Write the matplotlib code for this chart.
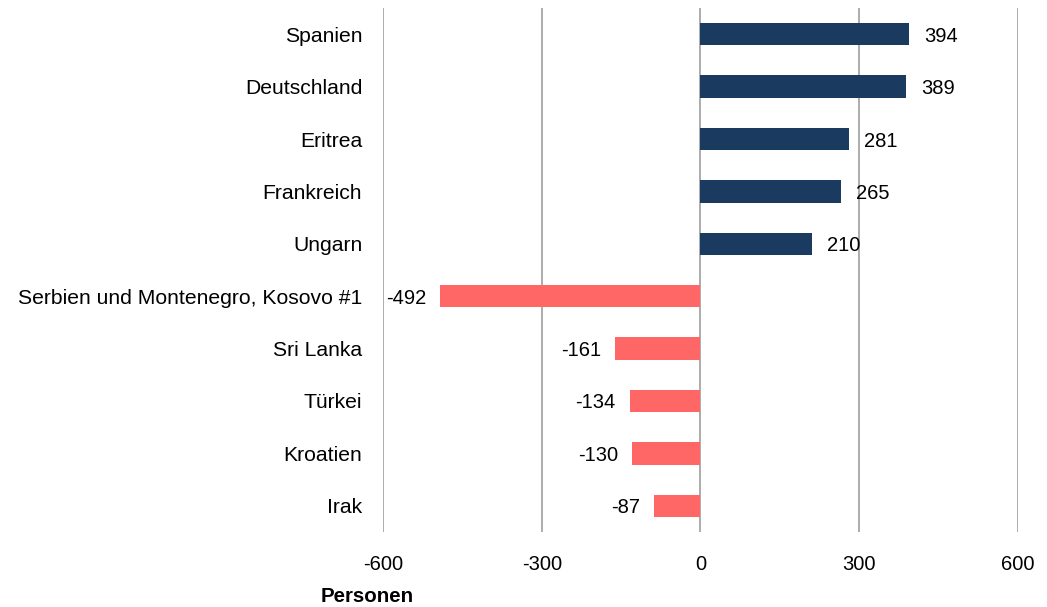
import matplotlib
matplotlib.use("Agg")
import matplotlib.pyplot as plt

categories = ["Spanien", "Deutschland", "Eritrea", "Frankreich", "Ungarn",
              "Serbien und Montenegro, Kosovo #1", "Sri Lanka", "Türkei", "Kroatien", "Irak"]
values = [394, 389, 281, 265, 210, -492, -161, -134, -130, -87]
xticks = [-600, -300, 0, 300, 600]
xlabel = "Personen"

pos_color = "#1b3a60"
neg_color = "#ff6666"
grid_color = "#a6a6a6"

plt.rcParams["font.family"] = ["Liberation Sans", "DejaVu Sans"]
FS = 14.5

fig = plt.figure(figsize=(10.47, 6.07), dpi=100)
ax = fig.add_axes([0.3658, 0.1236, 0.6065, 0.8632])

ypos = list(range(len(categories)))
colors = [pos_color if v >= 0 else neg_color for v in values]
ax.barh(ypos, values, height=0.43, color=colors, zorder=3)

for x in xticks:
    ax.axvline(x, color=grid_color, lw=1.3, zorder=1)

for y, v in zip(ypos, values):
    if v >= 0:
        ax.annotate(str(v), (v, y), xytext=(11, 0), textcoords="offset points",
                    ha="left", va="center_baseline", fontsize=FS, zorder=4)
    else:
        ax.annotate(str(v), (v, y), xytext=(-10, 0), textcoords="offset points",
                    ha="right", va="center_baseline", fontsize=FS, zorder=4)

ax.set_xlim(-600, 600)
ax.set_ylim(len(categories) - 0.5, -0.5)
ax.set_xticks(xticks)
ax.set_xticklabels([str(t) for t in xticks], fontsize=FS)
ax.set_yticks(ypos)
ax.set_yticklabels(categories, fontsize=15.2, va="center_baseline")
ax.tick_params(axis="x", length=0, pad=16.5)
ax.tick_params(axis="y", length=0, pad=15)
for s in ax.spines.values():
    s.set_visible(False)

fig.text(367 / 1047, 1 - 597 / 607, xlabel, ha="center", va="center",
         fontsize=14.8, fontweight="bold")

fig.savefig("out.png", dpi=100)
